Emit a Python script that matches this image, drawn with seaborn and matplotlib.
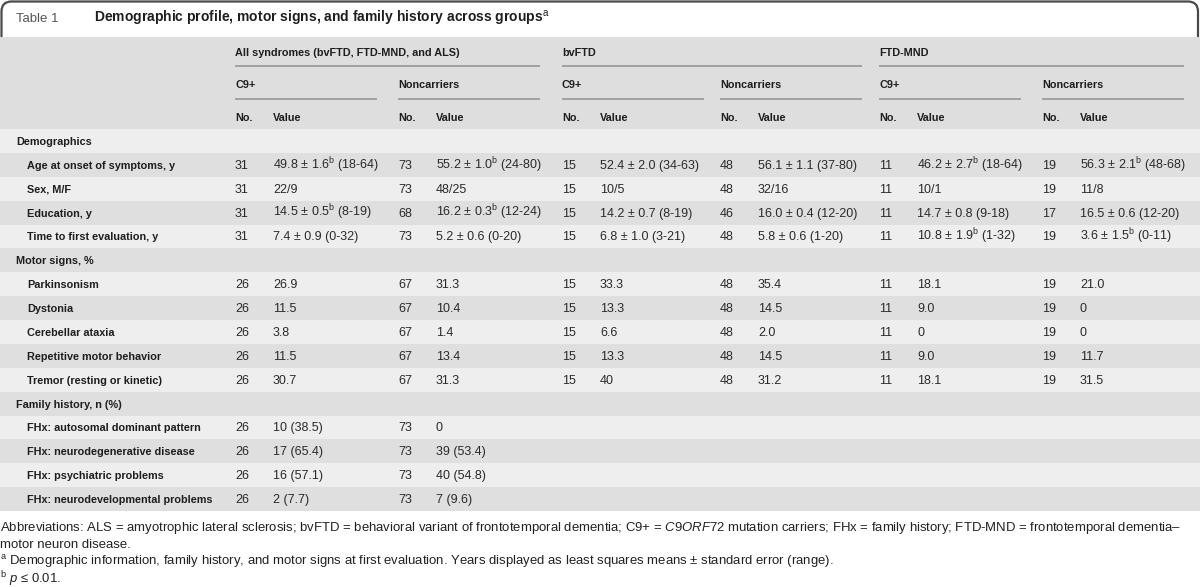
import numpy as np
import matplotlib
matplotlib.use("Agg")
import matplotlib.pyplot as plt
from matplotlib.colors import ListedColormap
from matplotlib.patches import FancyBboxPatch, Rectangle
import seaborn as sns

# ---------------- data ----------------
B = r"$^{\mathrm{b}}$"

table_label = "Table 1"
title = r"Demographic profile, motor signs, and family history across groups$^{\mathrm{a}}$"

group_labels = ["All syndromes (bvFTD, FTD-MND, and ALS)", "bvFTD", "FTD-MND"]
subgroup_labels = ["C9+", "Noncarriers", "C9+", "Noncarriers", "C9+", "Noncarriers"]
col_labels = ["No.", "Value"]

row_labels = [
    "Demographics",
    "Age at onset of symptoms, y",
    "Sex, M/F",
    "Education, y",
    "Time to first evaluation, y",
    "Motor signs, %",
    "Parkinsonism",
    "Dystonia",
    "Cerebellar ataxia",
    "Repetitive motor behavior",
    "Tremor (resting or kinetic)",
    "Family history, n (%)",
    "FHx: autosomal dominant pattern",
    "FHx: neurodegenerative disease",
    "FHx: psychiatric problems",
    "FHx: neurodevelopmental problems",
]
section_rows = [0, 5, 11]

all_c9_n = ["", "31", "31", "31", "31", "", "26", "26", "26", "26", "26", "", "26", "26", "26", "26"]
all_c9_v = ["", "49.8 ± 1.6" + B + " (18-64)", "22/9", "14.5 ± 0.5" + B + " (8-19)", "7.4 ± 0.9 (0-32)", "",
            "26.9", "11.5", "3.8", "11.5", "30.7", "", "10 (38.5)", "17 (65.4)", "16 (57.1)", "2 (7.7)"]
all_nc_n = ["", "73", "73", "68", "73", "", "67", "67", "67", "67", "67", "", "73", "73", "73", "73"]
all_nc_v = ["", "55.2 ± 1.0" + B + " (24-80)", "48/25", "16.2 ± 0.3" + B + " (12-24)", "5.2 ± 0.6 (0-20)", "",
            "31.3", "10.4", "1.4", "13.4", "31.3", "", "0", "39 (53.4)", "40 (54.8)", "7 (9.6)"]
bv_c9_n = ["", "15", "15", "15", "15", "", "15", "15", "15", "15", "15", "", "", "", "", ""]
bv_c9_v = ["", "52.4 ± 2.0 (34-63)", "10/5", "14.2 ± 0.7 (8-19)", "6.8 ± 1.0 (3-21)", "",
           "33.3", "13.3", "6.6", "13.3", "40", "", "", "", "", ""]
bv_nc_n = ["", "48", "48", "46", "48", "", "48", "48", "48", "48", "48", "", "", "", "", ""]
bv_nc_v = ["", "56.1 ± 1.1 (37-80)", "32/16", "16.0 ± 0.4 (12-20)", "5.8 ± 0.6 (1-20)", "",
           "35.4", "14.5", "2.0", "14.5", "31.2", "", "", "", "", ""]
mnd_c9_n = ["", "11", "11", "11", "11", "", "11", "11", "11", "11", "11", "", "", "", "", ""]
mnd_c9_v = ["", "46.2 ± 2.7" + B + " (18-64)", "10/1", "14.7 ± 0.8 (9-18)", "10.8 ± 1.9" + B + " (1-32)", "",
            "18.1", "9.0", "0", "9.0", "18.1", "", "", "", "", ""]
mnd_nc_n = ["", "19", "19", "17", "19", "", "19", "19", "19", "19", "19", "", "", "", "", ""]
mnd_nc_v = ["", "56.3 ± 2.1" + B + " (48-68)", "11/8", "16.5 ± 0.6 (12-20)", "3.6 ± 1.5" + B + " (0-11)", "",
            "21.0", "0", "0", "11.7", "31.5", "", "", "", "", ""]

n_cols = [all_c9_n, all_nc_n, bv_c9_n, bv_nc_n, mnd_c9_n, mnd_nc_n]
v_cols = [all_c9_v, all_nc_v, bv_c9_v, bv_nc_v, mnd_c9_v, mnd_nc_v]

footnotes = [
    r"Abbreviations: ALS = amyotrophic lateral sclerosis; bvFTD = behavioral variant of frontotemporal dementia; "
    r"C9+ = $\mathit{C9ORF72}$ mutation carriers; FHx = family history; FTD-MND = frontotemporal dementia–",
    "motor neuron disease.",
    r"$^{\mathrm{a}}$ Demographic information, family history, and motor signs at first evaluation. "
    r"Years displayed as least squares means ± standard error (range).",
    r"$^{\mathrm{b}}$ $\mathit{p}$ ≤ 0.01.",
]

# ---------------- style ----------------
sns.set_theme(style="white")
plt.rcParams["font.family"] = ["Liberation Sans", "DejaVu Sans"]
plt.rcParams["mathtext.fontset"] = "custom"
plt.rcParams["mathtext.rm"] = "Liberation Sans"
plt.rcParams["mathtext.it"] = "Liberation Sans:italic"
plt.rcParams["mathtext.bf"] = "Liberation Sans:bold"

W, H = 1200, 587
HDR_TOP, HDR_BOT = 37, 129
ROW_H = 23.875
n_rows = len(row_labels)
TAB_BOT = HDR_BOT + n_rows * ROW_H

light, dark, hdr_col = "#eeeeee", "#dfdfdf", "#dedede"
rule_col = "#9c9c9c"
txt_col = "#1e1e1e"
val_col = "#2a2a2a"
FS_BOLD = 7.8
FS_VAL = 9.0
FS_FOOT = 9.45

fig = plt.figure(figsize=(W / 100, H / 100), dpi=100)
fig.patch.set_facecolor("white")

# row stripes via seaborn heatmap
ax_bg = fig.add_axes([0, 1 - TAB_BOT / H, 1, (TAB_BOT - HDR_BOT) / H], zorder=0)
stripes = np.array([[i % 2] for i in range(n_rows)])
sns.heatmap(stripes, ax=ax_bg, cmap=ListedColormap([light, dark]), vmin=0, vmax=1,
            cbar=False, xticklabels=False, yticklabels=False)
ax_bg.set_axis_off()

ax = fig.add_axes([0, 0, 1, 1], zorder=1)
ax.set_xlim(0, W)
ax.set_ylim(H, 0)
ax.patch.set_alpha(0)
ax.set_axis_off()

# title box with rounded top border
box = FancyBboxPatch((1.5, 1.5), W - 3.5, 70, boxstyle="round,pad=0,rounding_size=10",
                     fc="white", ec="#4a4a4a", lw=1.6, zorder=1)
ax.add_patch(box)
ax.add_patch(Rectangle((0, HDR_TOP), W, HDR_BOT - HDR_TOP, fc=hdr_col, ec="none", zorder=2))

ax.text(16, 22.5, table_label, fontsize=9.5, color="#555555", va="baseline", zorder=4)
ax.text(94, 22.5, title, fontsize=10, fontweight="bold", color=txt_col, va="baseline", zorder=4)

no_x = [235, 398, 562, 720, 879, 1042]
val_off = 38
sub_w = 142

# header row 1 (groups)
for g, lab in enumerate(group_labels):
    x0 = no_x[2 * g]
    x1 = no_x[2 * g + 1] + sub_w
    ax.text(x0, 56, lab, fontsize=FS_BOLD, fontweight="bold", color=txt_col, va="baseline", zorder=4)
    ax.plot([x0, x1], [65.5, 65.5], color=rule_col, lw=1.3, solid_capstyle="butt", zorder=3)

# header rows 2-3 (subgroups, column names)
for s, lab in enumerate(subgroup_labels):
    x0 = no_x[s]
    ax.text(x0, 88, lab, fontsize=FS_BOLD, fontweight="bold", color=txt_col, va="baseline", zorder=4)
    ax.plot([x0, x0 + sub_w], [98.5, 98.5], color=rule_col, lw=1.3, solid_capstyle="butt", zorder=3)
    ax.text(x0, 121, col_labels[0], fontsize=FS_BOLD, fontweight="bold", color=txt_col,
            va="baseline", zorder=4)
    ax.text(x0 + val_off, 121, col_labels[1], fontsize=FS_BOLD, fontweight="bold", color=txt_col,
            va="baseline", zorder=4)

# body rows
for i, lab in enumerate(row_labels):
    yb = HDR_BOT + (i + 0.5) * ROW_H + 4
    xl = 16 if i in section_rows else 27
    ax.text(xl, yb, lab, fontsize=FS_BOLD, fontweight="bold", color=txt_col, va="baseline", zorder=4)
    for c in range(6):
        if n_cols[c][i]:
            ax.text(no_x[c], yb, n_cols[c][i], fontsize=FS_VAL, color=val_col, va="baseline", zorder=4)
        if v_cols[c][i]:
            ax.text(no_x[c] + val_off, yb, v_cols[c][i], fontsize=FS_VAL, color=val_col,
                    va="baseline", zorder=4)

# footnotes
foot_y = [530.5, 547.5, 565, 583.5]
for fy, ft in zip(foot_y, footnotes):
    ax.text(0.5, fy, ft, fontsize=FS_FOOT, color="#222222", va="baseline", zorder=4)

fig.savefig("out.png", dpi=100, facecolor="white")
